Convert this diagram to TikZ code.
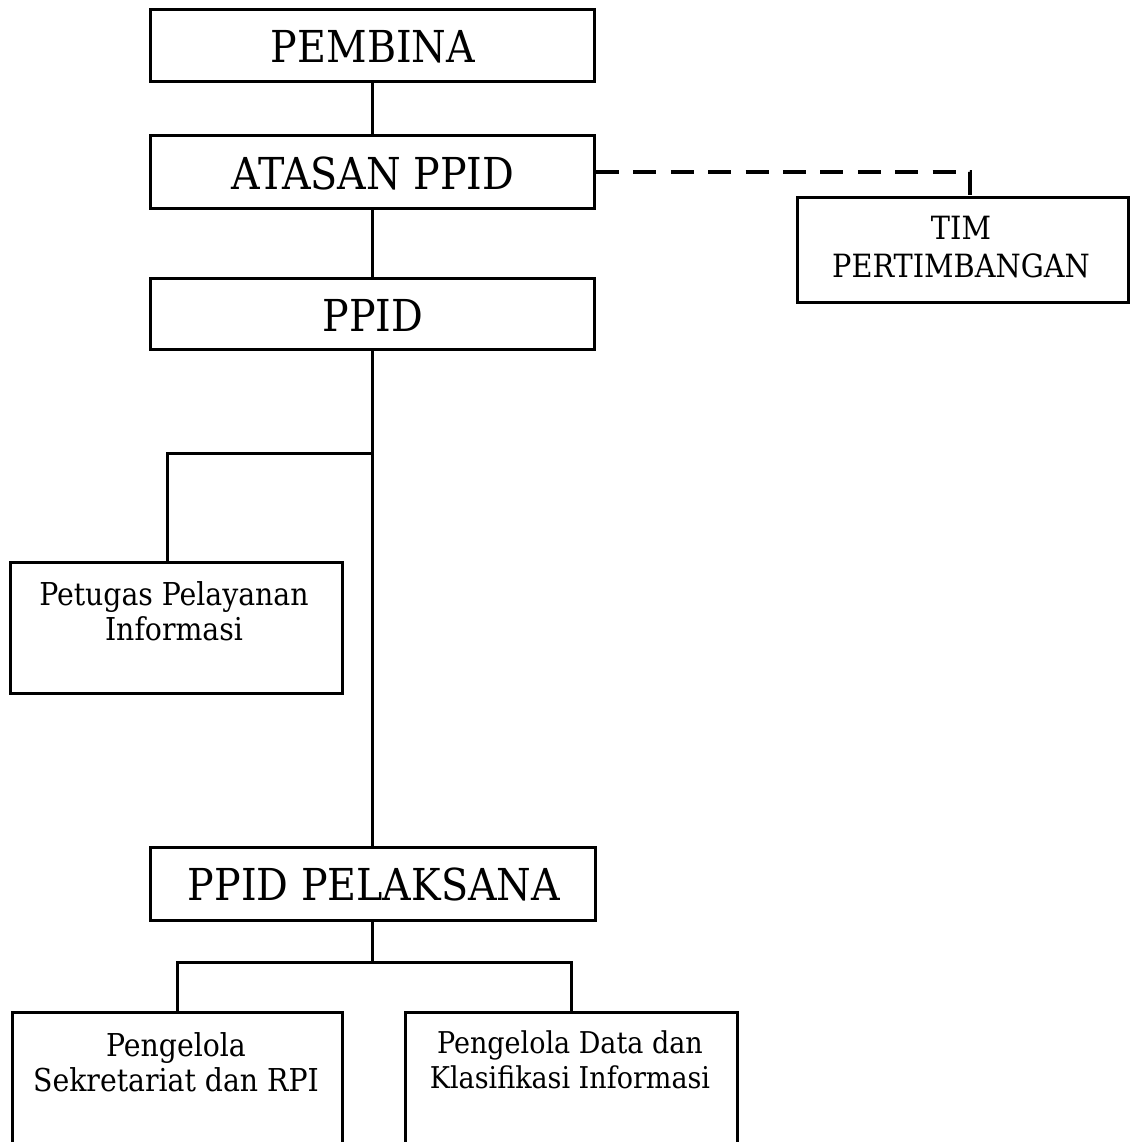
\documentclass[tikz,border=0pt]{standalone}
\usepackage{fontspec}
\setmainfont{DejaVu Serif Condensed}
\begin{document}
\begin{tikzpicture}[x=1pt,y=-1pt,
  box/.style={draw,line width=3pt,rectangle,inner sep=0pt},
  link/.style={line width=3pt},
  dashlink/.style={line width=4.2pt,dash pattern=on 23pt off 14.4pt},
  big/.style={font=\fontsize{44}{50}\selectfont},
  mid/.style={font=\fontsize{32}{38}\selectfont,align=center},
  small/.style={font=\fontsize{31.5}{35}\selectfont,align=center}]
\useasboundingbox (0,0) rectangle (1137,1142);
% boxes
\node[box,minimum width=444pt,minimum height=72pt] (pembina) at (372.5,46) {};
\node[box,minimum width=444pt,minimum height=72pt] (atasan) at (372.5,172) {};
\node[box,minimum width=444pt,minimum height=71pt] (ppid) at (372.5,313.5) {};
\node[box,minimum width=331pt,minimum height=105pt] (tim) at (962.5,249.5) {};
\node[box,minimum width=332pt,minimum height=131pt] (petugas) at (176,627.5) {};
\node[box,minimum width=445pt,minimum height=73pt] (pelaksana) at (373,883.5) {};
\node[box,minimum width=330pt,minimum height=140pt] (sekr) at (177,1082) {};
\node[box,minimum width=332pt,minimum height=140pt] (data) at (571,1082) {};
% texts
\node[big] (tpembina) at (373,47) {PEMBINA};
\node[big] (tatasan) at (373,173) {ATASAN PPID};
\node[big] (tppid) at (373,315) {PPID};
\node[big] (tpelaksana) at (374,884) {PPID PELAKSANA};
\node[mid] (ttim) at (961,247) {TIM\\PERTIMBANGAN};
\node[small] (tpetugas) at (174,611) {Petugas Pelayanan\\Informasi};
\node[small] (tsekr) at (176,1062) {Pengelola\\Sekretariat dan RPI};
\node[font=\fontsize{30}{35}\selectfont,align=center] (tdata) at (570,1060) {Pengelola Data dan\\Klasifikasi Informasi};
% connectors
\coordinate (b1) at (372.5,453);
\coordinate (b2) at (372.5,962);
\coordinate (timtop) at (970,197);
\draw[link] (pembina.south) -- (atasan.north);
\draw[link] (atasan.south) -- (ppid.north);
\draw[link] (ppid.south) -- (ppid.south |- pelaksana.north);
\draw[link] (b1) -| ([xshift=-9pt]petugas.north);
\draw[link] (b2 |- pelaksana.south) -- (b2);
\draw[link] (b2) -| (sekr.north);
\draw[link] (b2) -| (data.north);
\draw[dashlink] (atasan.east) -| (timtop);
\end{tikzpicture}
\end{document}
